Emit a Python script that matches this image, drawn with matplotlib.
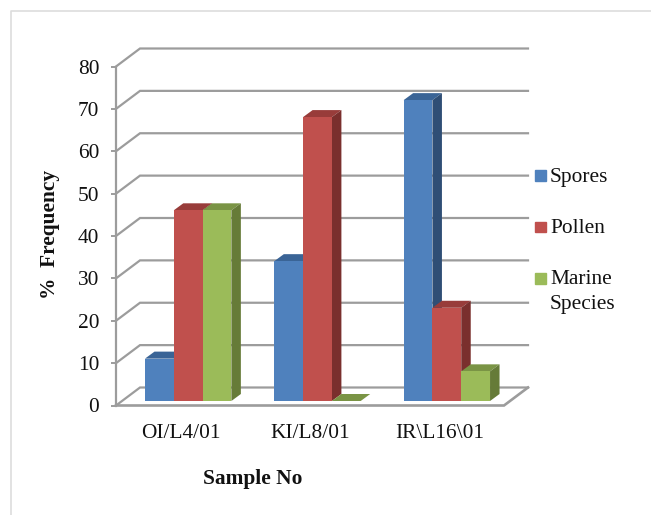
import matplotlib
matplotlib.use("Agg")
import matplotlib.pyplot as plt
from matplotlib.lines import Line2D
from matplotlib.patches import Patch
from matplotlib.transforms import ScaledTranslation

samples = ["OI/L4/01", "KI/L8/01", "IR\\L16\\01"]
series_names = ["Spores", "Pollen", "Marine\nSpecies"]
spores = [10, 33, 71]
pollen = [45, 67, 22]
marine = [45, 0, 7]
y_ticks = [0, 10, 20, 30, 40, 50, 60, 70, 80]

front_colors = ["#4F81BD", "#C0504D", "#9BBB59"]
side_colors = ["#2F4E75", "#7A2F2D", "#667B38"]
top_colors = ["#3A6496", "#983C3A", "#7A9445"]
GRID = "#9C9C9C"
FS = 15.4

plt.rcParams["font.family"] = ["Liberation Serif", "DejaVu Serif"]
W, H = 651, 515
fig = plt.figure(figsize=(W / 100, H / 100), dpi=100, facecolor="white")
L, R, TOP, BOT = 116, 504, 66.5, 405.5
ax = fig.add_axes([L / W, 1 - BOT / H, (R - L) / W, (BOT - TOP) / H])
ax.set_xlim(-0.5, 2.5)
ax.set_ylim(0, 80)
ax.patch.set_visible(False)
for s in ax.spines.values():
    s.set_visible(False)

px = (2.5 + 0.5) / (R - L)
py = 80 / (BOT - TOP)
wall_dx, wall_dy = 24 * px, 18 * py
bar_dx, bar_dy = 9.5 * px, 7 * py
bar_w = 28.8 * px

# walls and gridlines
for v in y_ticks:
    ax.plot([-0.5, -0.5 + wall_dx, 2.5 + wall_dx],
            [v, v + wall_dy, v + wall_dy],
            color=GRID, lw=1.6, clip_on=False, zorder=1, solid_joinstyle="miter")
ax.plot([-0.5, 2.5, 2.5 + wall_dx], [0, 0, wall_dy], color=GRID, lw=1.9,
        clip_on=False, zorder=1, solid_joinstyle="miter")
ax.plot([-0.5, -0.5], [0, 80], color=GRID, lw=1.6, clip_on=False, zorder=1)

# bars: shifted to the middle of the floor depth
dpi = fig.dpi
shift = ax.transData + ScaledTranslation(7.5 / dpi, 4.5 / dpi, fig.dpi_scale_trans)
z = 2
for i in range(len(samples)):
    for j, vals in enumerate([spores, pollen, marine]):
        v = vals[i]
        x0 = i + (j - 1.5) * bar_w
        x1 = x0 + bar_w
        ax.fill([x0, x1, x1 + bar_dx, x0 + bar_dx], [v, v, v + bar_dy, v + bar_dy],
                color=top_colors[j], lw=0, transform=shift, clip_on=False, zorder=z)
        if v > 0:
            ax.fill([x1, x1 + bar_dx, x1 + bar_dx, x1], [0, bar_dy, v + bar_dy, v],
                    color=side_colors[j], lw=0, transform=shift, clip_on=False, zorder=z)
            ax.bar(x0, v, width=bar_w, align="edge", color=front_colors[j], lw=0,
                   transform=shift, clip_on=False, zorder=z + 0.5)
        z += 1

ax.set_xticks(range(len(samples)), samples, fontsize=FS, color="#111111")
ax.set_yticks(y_ticks, [str(v) for v in y_ticks], fontsize=FS, color="#111111")
ax.tick_params(axis="x", length=0, pad=13.5)
ax.tick_params(axis="y", length=3.5, width=1.4, color=GRID, pad=8.5)

fig.text(50.5 / W, 1 - 234 / H, "%  Frequency", rotation=90, ha="center", va="center",
         fontsize=FS, fontweight="bold", color="#111111")
fig.text(252.5 / W, 1 - 479 / H, "Sample No", ha="center", va="center",
         fontsize=FS, fontweight="bold", color="#111111")

handles = [Patch(color=c) for c in front_colors]
leg = fig.legend(handles, series_names, loc="upper left",
                 bbox_to_anchor=(535 / W, 1 - 167.5 / H), frameon=False,
                 fontsize=FS, handlelength=0.51, handleheight=0.41,
                 handletextpad=0.19, labelspacing=1.5, labelcolor="#111111",
                 borderpad=0, borderaxespad=0)
leg.get_texts()[2].set_linespacing(1.43)
for hd in leg.legend_handles[:2]:
    hd.set_y(hd.get_y() - 1.5)
last = leg.legend_handles[2]
last.set_y(last.get_y() + 9)

# outer chart border
fig.add_artist(Line2D([10.5 / W, 10.5 / W, 1], [0, 1 - 10.5 / H, 1 - 10.5 / H],
                      color="#DDDDDD", lw=1.2, transform=fig.transFigure))

fig.savefig("out.png", dpi=100, facecolor="white")
